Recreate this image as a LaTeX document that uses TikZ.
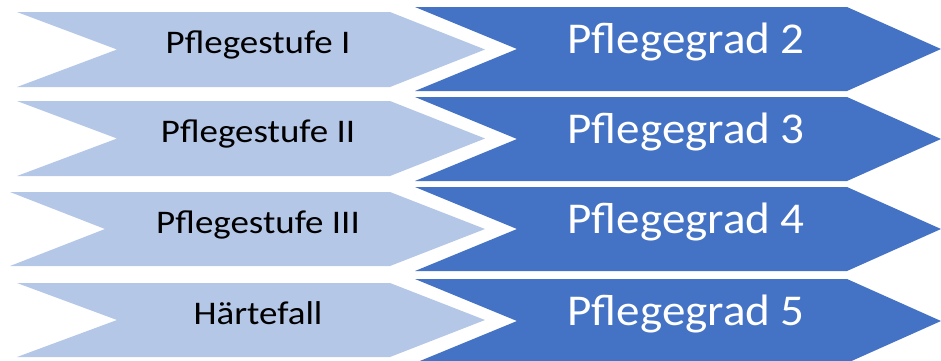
\documentclass[tikz,border=0pt]{standalone}
\usepackage{fontspec}
\setmainfont{Carlito}
\definecolor{stufeblue}{HTML}{B4C7E7}
\definecolor{gradblue}{HTML}{4472C4}
\tikzset{
  stufe/.style={fill=stufeblue},
  grad/.style={fill=gradblue},
  stufetext/.style={anchor=base, inner sep=0pt, xscale=1.12, font=\fontsize{33}{38}\selectfont},
  gradtext/.style={anchor=base, inner sep=0pt, xscale=1.07, text=white, font=\fontsize{44}{50}\selectfont}
}
\begin{document}
\begin{tikzpicture}[x=1pt,y=-1pt]
  \useasboundingbox (0,0) rectangle (941,360);

  % old levels, light arrows
  \foreach \t/\b/\l/\n/\txt [count=\i] in {12/87/17/117/Pflegestufe I, 101/176/17/117/Pflegestufe II, 192/266/10/105/Pflegestufe III, 283/357/17/117/Härtefall}
  {
    \fill [stufe] (\l,\t) -- (390,\t) -- (485,{(\t+\b)/2}) -- (390,\b) -- (\l,\b) -- (\n,{(\t+\b)/2}) -- cycle;
    \node [stufetext] (stufe\i) at (258,{(\t+\b)/2+4}) {\txt};
  }

  % new levels, dark arrows
  \foreach \t/\b/\txt [count=\i] in {7/91/Pflegegrad 2, 97/181/Pflegegrad 3, 187/271/Pflegegrad 4, 279/363/Pflegegrad 5}
  {
    \fill [grad] (415,\t) -- (847,\t) -- (941,{(\t+\b)/2}) -- (847,\b) -- (415,\b) -- (517,{(\t+\b)/2}) -- cycle;
    \node [gradtext] (grad\i) at (686,{(\t+\b)/2+4}) {\txt};
  }
\end{tikzpicture}
\end{document}
